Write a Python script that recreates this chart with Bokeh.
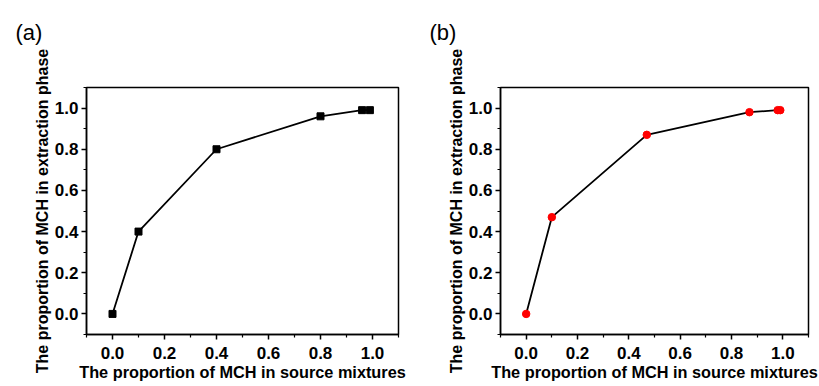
from bokeh.plotting import figure
from bokeh.layouts import row
from bokeh.models import FixedTicker, PrintfTickFormatter, Range1d, Title
from bokeh.embed import file_html
from bokeh.resources import INLINE

# ---- data ----
a_source = [0.0, 0.1, 0.4, 0.8, 0.96, 0.99]
a_extract = [0.0, 0.4, 0.8, 0.96, 0.99, 0.99]
b_source = [0.0, 0.1, 0.47, 0.87, 0.98, 0.99]
b_extract = [0.0, 0.47, 0.87, 0.98, 0.99, 0.99]
major_ticks = [0.0, 0.2, 0.4, 0.6, 0.8, 1.0]
minor_ticks = [-0.1, 0.1, 0.3, 0.5, 0.7, 0.9, 1.1]
x_title = "The proportion of MCH in source mixtures"
y_title = "The proportion of MCH in extraction phase"
panel_tags = ["(a)", "(b)"]

FONT = "Liberation Sans"
X0, X1 = -0.1, 1.1
Y0, Y1 = -0.1, 1.1


def make_panel(xs, ys, tag, width, border_left, frame_w, marker, tag_left):
    p = figure(width=width, height=386, output_backend="svg", toolbar_location=None,
               x_range=Range1d(X0, X1), y_range=Range1d(Y0, Y1),
               min_border_left=border_left, min_border_top=87,
               min_border_right=width - border_left - frame_w, min_border_bottom=52,
               frame_width=frame_w, frame_height=247)
    p.background_fill_color = "white"
    p.border_fill_color = "white"
    p.grid.visible = False
    p.outline_line_color = "black"
    p.outline_line_width = 1.5
    p.outline_line_alpha = 1.0

    for ax in (p.xaxis[0], p.yaxis[0]):
        ax.ticker = FixedTicker(ticks=major_ticks, minor_ticks=minor_ticks)
        ax.formatter = PrintfTickFormatter(format="%.1f")
        ax.axis_line_color = "black"
        ax.axis_line_width = 1.5
        ax.major_tick_line_color = "black"
        ax.major_tick_line_width = 1.5
        ax.minor_tick_line_color = "black"
        ax.minor_tick_line_width = 1.2
        ax.major_tick_in = 0
        ax.major_tick_out = 5
        ax.minor_tick_in = 0
        ax.minor_tick_out = 3
        ax.major_label_text_font = FONT
        ax.major_label_text_font_style = "bold"
        ax.major_label_text_font_size = "17px"
        ax.major_label_text_color = "black"
        ax.axis_label_text_font = FONT
        ax.axis_label_text_font_style = "bold"
        ax.axis_label_text_color = "black"
    p.xaxis.axis_label = x_title
    p.xaxis.axis_label_text_font_size = "16.3px"
    p.xaxis.major_label_standoff = 7
    p.xaxis.axis_label_standoff = 1
    p.yaxis.axis_label = y_title
    p.yaxis.axis_label_text_font_size = "16px"
    p.yaxis.major_label_standoff = 3
    p.yaxis.axis_label_standoff = 1

    p.line(xs, ys, line_color="black", line_width=1.8)
    if marker == "square":
        p.scatter(xs, ys, marker="square", size=7, fill_color="black", line_color="black")
    else:
        p.scatter(xs, ys, marker="circle", size=7.5, fill_color="#ff0000", line_color="#ff0000")

    # spacer title (closest to the frame), then the panel tag above it
    p.add_layout(Title(text=" ", text_font=FONT, text_font_size="2px",
                       standoff=37, text_color="white"), "above")
    p.add_layout(Title(text=tag, text_font=FONT, text_font_size="22px",
                       text_font_style="normal", text_color="black",
                       align="left", vertical_align="top",
                       offset=tag_left - border_left, standoff=0), "above")
    return p


pa = make_panel(a_source, a_extract, panel_tags[0], 418, 86, 312, "square", 15)
pb = make_panel(b_source, b_extract, panel_tags[1], 401, 82, 308, "circle", 11)

layout = row(pa, pb, spacing=0)
open("out.html", "w").write(file_html(layout, INLINE))
